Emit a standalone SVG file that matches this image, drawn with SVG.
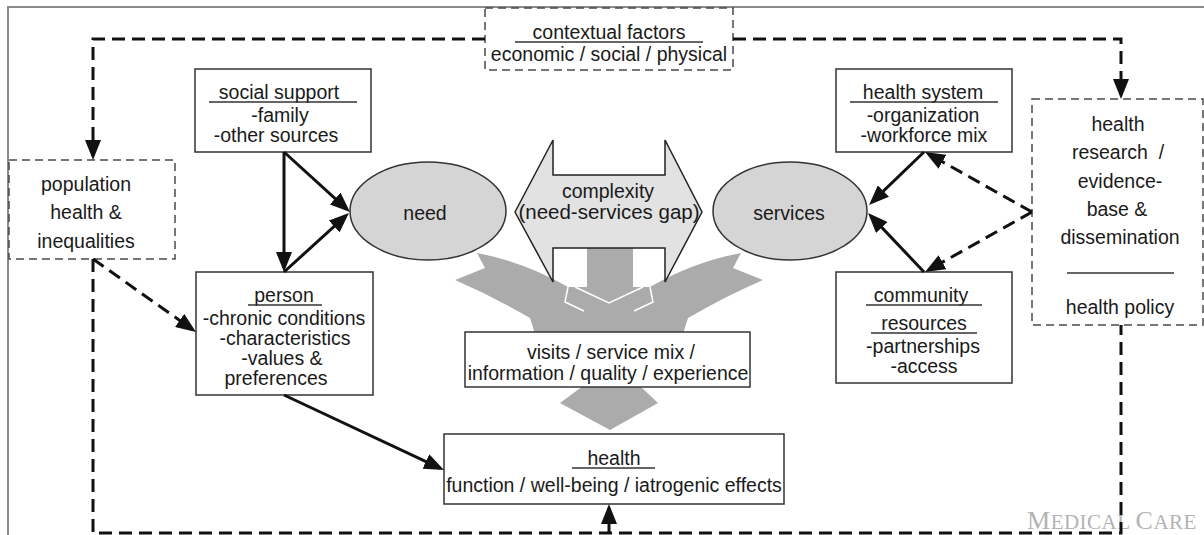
<svg xmlns="http://www.w3.org/2000/svg" width="1204" height="535" viewBox="0 0 1204 535">
  <style>
    .t { font-family: "Liberation Sans", Arial, sans-serif; font-size: 19.5px; fill: #1a1a1a; text-anchor: middle; }
    .box { fill: #ffffff; stroke: #333333; stroke-width: 1.5; }
    .dbox { fill: #ffffff; stroke: #4a4a4a; stroke-width: 1.5; stroke-dasharray: 8 5; }
    .ul { stroke: #333333; stroke-width: 1.5; }
    .oval { fill: #d5d5d5; stroke: #333333; stroke-width: 1.5; }
    .solid { fill: none; stroke: #111111; stroke-width: 3; marker-end: url(#head); }
    .dash { fill: none; stroke: #111111; stroke-width: 3; stroke-dasharray: 13 7; }
    .dash.arr { marker-end: url(#head); }
    .flow { fill: #ababab; stroke: none; }
    .seam { fill: none; stroke: #ffffff; stroke-width: 1.5; stroke-linejoin: miter; }
    .mark { font-family: "Liberation Serif", "Times New Roman", serif; fill: #b3b3b3; letter-spacing: 0.5px; }
  </style>
  <defs>
    <marker id="head" viewBox="0 0 20 16" refX="16" refY="8" markerWidth="20" markerHeight="16" markerUnits="userSpaceOnUse" orient="auto">
      <path d="M0,0 L20,8 L0,16 Z" fill="#111111" stroke="none"/>
    </marker>
  </defs>

  <!-- outer frame -->
  <path d="M8,535 L8,7 L1204,7" fill="none" stroke="#8a8a8a" stroke-width="2"/>

  <!-- wide grey flow arrows merging into the service mix box -->
  <g id="flow-arrows">
    <path class="flow" d="M477,253 Q525,262 568,287 L587,287 L587,246 L633,246 L633,287 L650,287 Q693,262 741,253 L733,268 L763,280 Q726,296 688,318 L681,340 L537,340 L530,318 Q492,296 455,280 L485,268 Z"/>
    <path class="seam" d="M575,287 L609,303 L643,287"/>
    <path class="seam" d="M568,287 L565,302 L584,311"/>
    <path class="seam" d="M650,287 L653,302 L634,311"/>
    <path class="flow" d="M583,386 L640,386 L658,403 L610,430 L560,403 Z"/>
  </g>

  <!-- complexity double arrow -->
  <g id="n-complexity">
    <path d="M515,212 L553,140 L553,175 L665,175 L665,140 L702,212 L665,282 L665,248 L553,248 L553,282 Z" fill="#e2e2e2" stroke="#222222" stroke-width="1.5" stroke-linejoin="miter"/>
    <text class="t" x="608" y="198">complexity</text>
    <text class="t" x="609" y="219" style="font-size:20.5px">(need-services gap)</text>
  </g>

  <g id="n-need">
    <ellipse class="oval" cx="428" cy="211" rx="78" ry="49"/>
    <text class="t" x="425" y="220">need</text>
  </g>

  <g id="n-services">
    <ellipse class="oval" cx="790" cy="211" rx="77" ry="49"/>
    <text class="t" x="789" y="220">services</text>
  </g>

  <g id="n-context">
    <rect class="dbox" x="485" y="8" width="248" height="62"/>
    <text class="t" x="609" y="39">contextual factors</text>
    <line class="ul" x1="515" y1="42" x2="703" y2="42"/>
    <text class="t" x="609" y="61">economic / social / physical</text>
  </g>

  <g id="n-population">
    <rect class="dbox" x="9" y="160" width="166" height="99"/>
    <text class="t" x="86" y="191">population</text>
    <text class="t" x="86" y="219">health &amp;</text>
    <text class="t" x="86" y="248">inequalities</text>
  </g>

  <g id="n-social">
    <rect class="box" x="195" y="69" width="176" height="83"/>
    <text class="t" x="279" y="99">social support</text>
    <line class="ul" x1="209" y1="102" x2="357" y2="102"/>
    <text class="t" x="280" y="122">-family</text>
    <text class="t" x="276" y="142">-other sources</text>
  </g>

  <g id="n-person">
    <rect class="box" x="196" y="272" width="177" height="123"/>
    <text class="t" x="284" y="302">person</text>
    <line class="ul" x1="248" y1="305" x2="322" y2="305"/>
    <text class="t" x="284" y="325">-chronic conditions</text>
    <text class="t" x="285" y="345">-characteristics</text>
    <text class="t" x="282" y="365">-values &amp;</text>
    <text class="t" x="276" y="385">preferences</text>
  </g>

  <g id="n-healthsystem">
    <rect class="box" x="836" y="69" width="176" height="83"/>
    <text class="t" x="923" y="99">health system</text>
    <line class="ul" x1="850" y1="102" x2="998" y2="102"/>
    <text class="t" x="923" y="122">-organization</text>
    <text class="t" x="924" y="142">-workforce mix</text>
  </g>

  <g id="n-community">
    <rect class="box" x="836" y="272" width="176" height="111"/>
    <text class="t" x="921" y="302">community</text>
    <line class="ul" x1="866" y1="305" x2="982" y2="305"/>
    <text class="t" x="924" y="330">resources</text>
    <line class="ul" x1="871" y1="333" x2="977" y2="333"/>
    <text class="t" x="923" y="353">-partnerships</text>
    <text class="t" x="924" y="373">-access</text>
  </g>

  <g id="n-research">
    <rect class="dbox" x="1032" y="99" width="171" height="226"/>
    <text class="t" x="1118" y="131">health</text>
    <text class="t" x="1118" y="159" xml:space="preserve">research  /</text>
    <text class="t" x="1120" y="188">evidence-</text>
    <text class="t" x="1117" y="216">base &amp;</text>
    <text class="t" x="1120" y="244">dissemination</text>
    <line class="ul" x1="1067" y1="273" x2="1174" y2="273" stroke-width="1"/>
    <text class="t" x="1120" y="314">health policy</text>
  </g>

  <g id="n-visits">
    <rect class="box" x="465" y="332" width="285" height="55"/>
    <text class="t" x="611" y="359">visits / service mix /</text>
    <text class="t" x="608" y="380">information / quality / experience</text>
  </g>

  <g id="n-health">
    <rect class="box" x="444" y="434" width="340" height="70"/>
    <text class="t" x="614" y="465">health</text>
    <line class="ul" x1="572" y1="468" x2="655" y2="468"/>
    <text class="t" x="614" y="492">function / well-being / iatrogenic effects</text>
  </g>

  <!-- publisher mark -->
  <text class="mark" x="1027" y="529"><tspan style="font-size:26px">M</tspan><tspan style="font-size:21px">EDICAL </tspan><tspan style="font-size:26px">C</tspan><tspan style="font-size:21px">ARE</tspan></text>

  <g id="connectors">
    <!-- solid influences -->
    <path class="solid" d="M284,152 L284,268"/>
    <path class="solid" d="M284,152 L347,209.3"/>
    <path class="solid" d="M284,272 L346,215.7"/>
    <path class="solid" d="M924,152 L871.9,202.2"/>
    <path class="solid" d="M924,272 L870.8,215.9"/>
    <path class="solid" d="M284,395 L440.4,468.3"/>
    <!-- dashed contextual / feedback paths -->
    <path class="dash arr" d="M485,39 L93,39 L93,156"/>
    <path class="dash arr" d="M733,39 L1121,39 L1121,95"/>
    <path class="dash arr" d="M93,259 L192.7,329.7"/>
    <path class="dash" d="M93,259 L93,533 L1121,533 L1121,325"/>
    <path class="dash arr" d="M609,533 L609,508"/>
    <path class="dash arr" d="M1032,212 L928.5,154"/>
    <path class="dash arr" d="M1032,212 L928.5,270"/>
  </g>
</svg>
